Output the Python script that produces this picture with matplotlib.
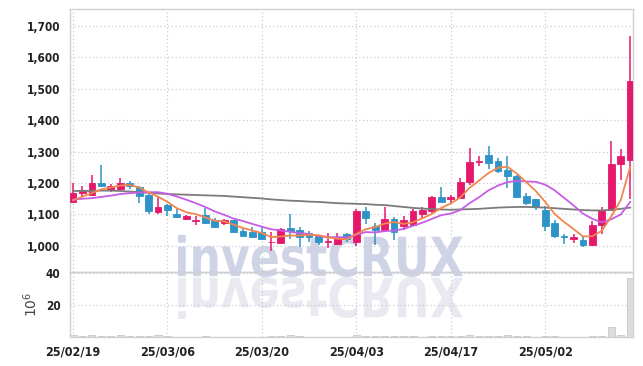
import numpy as np
import matplotlib
matplotlib.use("Agg")
import matplotlib.pyplot as plt
from matplotlib.textpath import TextPath
from matplotlib.patches import PathPatch
from matplotlib.font_manager import FontProperties
from matplotlib.transforms import Affine2D, IdentityTransform

# 일봉 데이터 (25/02/19 ~ 25/05 중순)
opens = [1140, 1167, 1162, 1199, 1177, 1180, 1200, 1189, 1163, 1108,
         1131, 1101, 1085, 1079, 1097, 1081, 1072, 1081, 1047, 1043,
         1043, 1011, 1009, 1057, 1051, 1041, 1030, 1013, 1006, 1038,
         1012, 1110, 1062, 1051, 1085, 1062, 1065, 1100, 1110, 1155,
         1149, 1154, 1202, 1266, 1290, 1271, 1243, 1223, 1160, 1149,
         1113, 1072, 1032, 1021, 1019, 1003, 1067, 1115, 1260, 1274]
highs = [1200, 1190, 1227, 1258, 1196, 1215, 1206, 1190, 1165, 1160,
         1132, 1120, 1099, 1094, 1120, 1090, 1085, 1083, 1058, 1060,
         1060, 1043, 1058, 1100, 1060, 1049, 1033, 1040, 1040, 1040,
         1118, 1123, 1073, 1123, 1091, 1094, 1117, 1125, 1160, 1186,
         1163, 1216, 1312, 1285, 1319, 1280, 1287, 1225, 1170, 1150,
         1126, 1083, 1038, 1038, 1028, 1080, 1125, 1335, 1310, 1669]
lows = [1138, 1158, 1160, 1187, 1172, 1176, 1181, 1136, 1102, 1102,
        1094, 1090, 1081, 1067, 1070, 1058, 1065, 1041, 1030, 1027,
        1020, 985, 1005, 1022, 998, 1014, 1004, 994, 1004, 1012,
        1001, 1070, 1002, 1046, 1019, 1051, 1062, 1088, 1104, 1139,
        1136, 1152, 1195, 1255, 1245, 1232, 1184, 1152, 1131, 1113,
        1049, 1024, 1006, 1008, 996, 1000, 1037, 1110, 1210, 1150]
closes = [1170, 1178, 1200, 1190, 1191, 1200, 1191, 1160, 1110, 1123,
          1115, 1092, 1094, 1083, 1072, 1060, 1081, 1043, 1031, 1028,
          1022, 1014, 1054, 1049, 1028, 1028, 1012, 1017, 1028, 1022,
          1110, 1089, 1050, 1085, 1045, 1083, 1110, 1115, 1155, 1141,
          1155, 1205, 1268, 1270, 1264, 1237, 1221, 1157, 1136, 1123,
          1064, 1030, 1028, 1027, 1002, 1067, 1115, 1260, 1286, 1525]

# 이동평균선
ma5 = [1145, 1157, 1168, 1180, 1186, 1192, 1194, 1186, 1170, 1157,
       1140, 1120, 1107, 1101, 1091, 1080, 1078, 1068, 1057, 1049,
       1041, 1028, 1030, 1033, 1033, 1035, 1034, 1027, 1023, 1021,
       1038, 1053, 1060, 1071, 1076, 1070, 1075, 1088, 1102, 1121,
       1135, 1154, 1185, 1208, 1232, 1249, 1252, 1230, 1203, 1175,
       1140, 1102, 1076, 1054, 1030, 1031, 1048, 1094, 1146, 1251]
ma10 = [1148, 1150, 1152, 1156, 1160, 1165, 1168, 1170, 1171, 1171,
        1166, 1157, 1147, 1136, 1124, 1110, 1099, 1087, 1079, 1070,
        1061, 1053, 1049, 1045, 1041, 1038, 1031, 1028, 1028, 1027,
        1036, 1044, 1043, 1047, 1049, 1054, 1064, 1074, 1086, 1098,
        1103, 1114, 1136, 1155, 1177, 1192, 1203, 1207, 1205, 1204,
        1195, 1177, 1153, 1129, 1103, 1086, 1075, 1085, 1100, 1140]
ma60 = [1175, 1175, 1175, 1176, 1176, 1175, 1173, 1171, 1169, 1167,
        1165, 1164, 1163, 1162, 1161, 1160, 1159, 1157, 1155, 1153,
        1151, 1148, 1146, 1144, 1143, 1141, 1140, 1138, 1136, 1135,
        1134, 1133, 1131, 1130, 1127, 1124, 1121, 1119, 1117, 1116,
        1115, 1116, 1117, 1118, 1120, 1122, 1123, 1124, 1124, 1123,
        1122, 1120, 1118, 1116, 1114, 1113, 1113, 1115, 1118, 1122]

# 거래량 (백만 주)
volume = [1.0, 0.5, 1.2, 0.8, 0.4, 1.0, 0.4, 0.5, 0.7, 1.0,
          0.5, 0.3, 0.3, 0.3, 0.4, 0.3, 0.3, 0.3, 0.3, 0.2,
          0.3, 0.8, 0.9, 1.0, 0.5, 0.3, 0.3, 0.3, 0.3, 0.3,
          1.2, 0.6, 0.5, 0.9, 0.8, 0.4, 0.5, 0.3, 0.8, 0.7,
          0.4, 0.9, 1.5, 0.8, 0.9, 0.6, 1.0, 0.8, 0.4, 0.3,
          0.6, 0.5, 0.3, 0.2, 0.3, 0.7, 0.9, 6.5, 1.5, 37.0]

date_labels = ['25/02/19', '25/03/06', '25/03/20', '25/04/03', '25/04/17', '25/05/02']
price_ticks = [1000, 1100, 1200, 1300, 1400, 1500, 1600, 1700]
vol_ticks = [20, 40]

UP = '#e6186c'
DOWN = '#2e93c6'
GRID = '#c9ccd9'
TXT = '#222222'

o = np.array(opens, float)
h = np.array(highs, float)
l = np.array(lows, float)
c = np.array(closes, float)
x = np.arange(len(c))
colors = [UP if cc >= oo else DOWN for oo, cc in zip(o, c)]

fig = plt.figure(figsize=(6.43, 3.66), dpi=100)
fig.patch.set_facecolor('white')
ax = fig.add_axes([70 / 643, 94 / 366, 563 / 643, 263 / 366])
axv = fig.add_axes([70 / 643, 29 / 366, 563 / 643, 65 / 366], sharex=ax)
for a in (ax, axv):
    a.set_facecolor('none')
    a.set_zorder(2)
    for s in a.spines.values():
        s.set_color('#d0d0d4')
        s.set_linewidth(1.0)
    a.grid(True, color=GRID, linestyle=(0, (1, 2)), linewidth=0.9)
    a.set_axisbelow(True)
    a.tick_params(length=0, colors=TXT)

tick_font = dict(family='DejaVu Sans', stretch='condensed', weight='heavy', size=8.5)

# 캔들
ax.vlines(x, l, h, colors=colors, linewidth=1.1, zorder=3)
ax.bar(x, np.abs(c - o), bottom=np.minimum(o, c), width=0.72, color=colors,
       edgecolor=colors, linewidth=0.6, zorder=4)

ax.plot(x, ma60, color='#7b7b7b', linewidth=1.3, zorder=5)
ax.plot(x, ma10, color='#c75de4', linewidth=1.3, zorder=5)
ax.plot(x, ma5, color='#f0874e', linewidth=1.3, zorder=5)

ax.set_xlim(-0.32, 59.3)
ax.set_ylim(917, 1754)
ax.set_yticks(price_ticks)
ax.set_yticklabels([f'{t:,}' for t in price_ticks], fontdict=tick_font)
ax.tick_params(axis='y', pad=7)
ax.tick_params(axis='x', labelbottom=False)

axv.bar(x, volume, width=0.75, color='#dcdce0', edgecolor='#c8c8cc', linewidth=0.6, zorder=3)
axv.set_ylim(0, 40.6)
axv.set_yticks(vol_ticks)
axv.set_yticklabels([str(t) for t in vol_ticks], fontdict=tick_font)
axv.tick_params(axis='y', pad=7)
tick_pos = list(range(0, len(c), 10))[:len(date_labels)]
axv.set_xticks(tick_pos)
axv.set_xticklabels(date_labels, fontdict=dict(tick_font, size=9))
axv.tick_params(axis='x', pad=6)
axv.set_ylabel(r'$10^6$', color='#444444', fontsize=10, labelpad=4)

# 워터마크
tp = TextPath((0, 0), 'investCRUX', size=50,
              prop=FontProperties(family='DejaVu Sans', weight='bold'))
bb = tp.get_extents()
sx = 285 / bb.width
sy = 42 / bb.height
tm = Affine2D().translate(-bb.x0, -bb.y0).scale(sx, sy).translate(178, 89)
tr = Affine2D().translate(-bb.x0, -bb.y0).scale(sx, -sy).translate(178, 89)
fig.patches.append(PathPatch(tm.transform_path(tp), transform=IdentityTransform(),
                             facecolor='#ced3e6', edgecolor='none', zorder=1, figure=fig))
fig.patches.append(PathPatch(tr.transform_path(tp), transform=IdentityTransform(),
                             facecolor='#e8e9f1', edgecolor='none', zorder=1, figure=fig))

fig.savefig('out.png', dpi=100)
